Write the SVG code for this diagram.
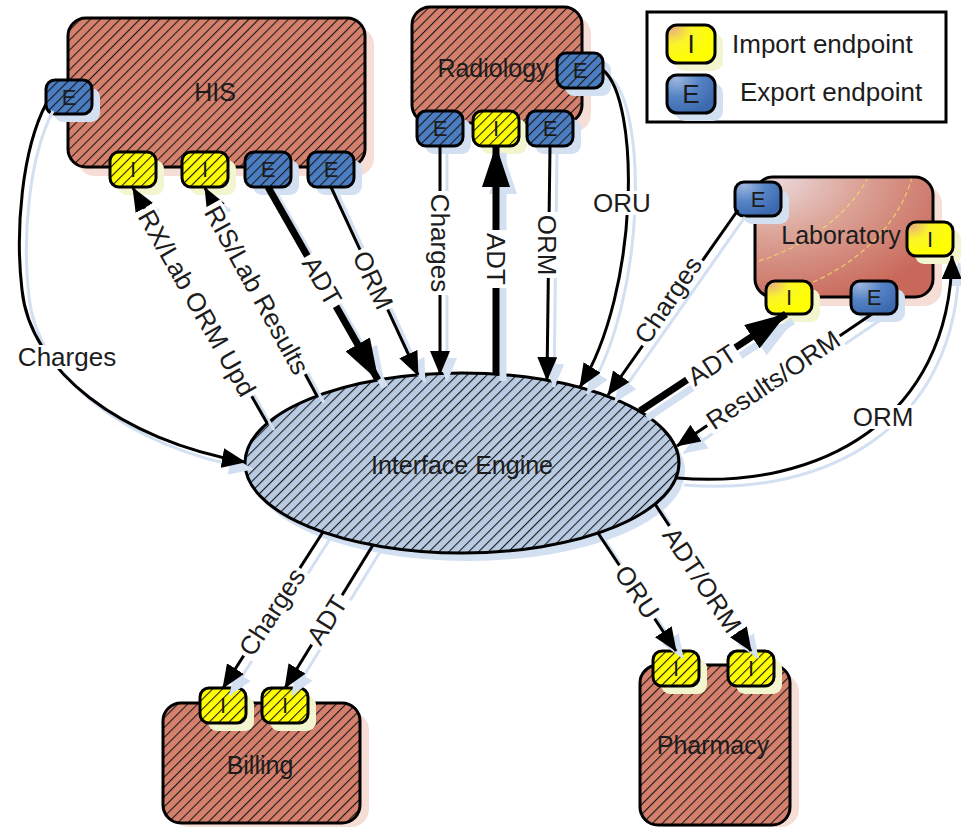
<svg xmlns="http://www.w3.org/2000/svg" width="961" height="829" viewBox="0 0 961 829">
<defs>
<style>
text{font-family:"Liberation Sans",Arial,Helvetica,sans-serif;fill:#1c1c1c}
.nt{font-size:25px;text-anchor:middle;dominant-baseline:central}
.pt{font-size:22px;text-anchor:middle;dominant-baseline:central}
.lpt{font-size:26px;text-anchor:middle;dominant-baseline:central}
.lt{font-size:26px}
.lb{font-size:26px;text-anchor:middle;dominant-baseline:central}
.lbg{fill:#fff}
.edge{stroke:#000;stroke-width:3}
.bfill{fill:#d5806d}
.hat{fill:url(#hatch)}
.yel{fill:#ffff00}
.blu{fill:#4b7dc2}
.yg{fill:url(#yelG)}
.bg{fill:url(#bluG)}
.bs{fill:#f6ddd6}
.ys{fill:#f3f5cf}
.ls{fill:#d3e0f1}
</style>
<pattern id="hatch" patternUnits="userSpaceOnUse" width="7" height="7" patternTransform="rotate(45)"><rect x="0" y="0" width="1.1" height="7" fill="#1a1a1a"/></pattern>
<radialGradient id="labG" cx="0.1" cy="0" r="1.1" fx="0.1" fy="0">
<stop offset="0" stop-color="#ecdadd"/><stop offset="0.45" stop-color="#dba396"/><stop offset="1" stop-color="#c8685a"/>
</radialGradient>
<radialGradient id="yelG" cx="0.1" cy="0.1" r="0.9">
<stop offset="0" stop-color="#e8b27c"/><stop offset="0.45" stop-color="#fbf52a"/><stop offset="1" stop-color="#ffff00"/>
</radialGradient>
<radialGradient id="bluG" cx="0.2" cy="0.1" r="0.95">
<stop offset="0" stop-color="#9db6df"/><stop offset="0.5" stop-color="#5583c5"/><stop offset="1" stop-color="#3c69ae"/>
</radialGradient>
<clipPath id="labClip"><rect x="755" y="177" width="178" height="120" rx="18"/></clipPath>
<marker id="ah" viewBox="0 0 24 20" refX="23" refY="10" markerWidth="24" markerHeight="20" orient="auto" markerUnits="userSpaceOnUse"><path d="M0,0 L24,10 L0,20 z" fill="#000"/></marker>
<marker id="ahB" viewBox="0 0 42 28" refX="41" refY="14" markerWidth="42" markerHeight="28" orient="auto" markerUnits="userSpaceOnUse"><path d="M0,0 L42,14 L0,28 z" fill="#000"/></marker>
<marker id="ahS" viewBox="0 0 24 20" refX="23" refY="10" markerWidth="24" markerHeight="20" orient="auto" markerUnits="userSpaceOnUse"><path d="M0,0 L24,10 L0,20 z" fill="#d3e0f1"/></marker>
<marker id="ahBS" viewBox="0 0 42 28" refX="41" refY="14" markerWidth="42" markerHeight="28" orient="auto" markerUnits="userSpaceOnUse"><path d="M0,0 L42,14 L0,28 z" fill="#d3e0f1"/></marker>
</defs>
<rect width="961" height="829" fill="#fff"/>

<!-- Legend -->
<g id="legend">
<rect x="647" y="12" width="299" height="110" fill="#fff" stroke="#000" stroke-width="3"/>
<rect class="ys" x="675" y="33" width="48" height="38" rx="10"/>
<rect class="yg edge" x="667" y="25" width="48" height="38" rx="10"/>
<text class="lpt" x="691" y="44">I</text>
<rect class="ls" x="675" y="83" width="48" height="38" rx="10"/>
<rect class="bg edge" x="667" y="75" width="48" height="38" rx="10"/>
<text class="lpt" x="691" y="94">E</text>
<text class="lt" x="732" y="53">Import endpoint</text>
<text class="lt" x="740" y="101">Export endpoint</text>
</g>

<!-- HIS -->
<g id="node-his">
<rect class="bs" x="77" y="27" width="297" height="149" rx="18"/>
<rect class="bfill" x="68" y="18" width="297" height="149" rx="18"/>
<rect class="hat edge" x="68" y="18" width="297" height="149" rx="18"/>
<text class="nt" x="215" y="92">HIS</text>
<g id="his-e-left"><rect class="ls" x="54" y="88" width="46" height="34" rx="9"/><rect class="blu" x="46" y="80" width="46" height="34" rx="9"/><text class="pt" x="69" y="97">E</text><rect class="hat edge" x="46" y="80" width="46" height="34" rx="9"/></g>
<g id="his-i1"><rect class="ys" x="118" y="160" width="46" height="35" rx="9"/><rect class="yel" x="110" y="152" width="46" height="35" rx="9"/><text class="pt" x="133" y="169.5">I</text><rect class="hat edge" x="110" y="152" width="46" height="35" rx="9"/></g>
<g id="his-i2"><rect class="ys" x="190" y="160" width="46" height="35" rx="9"/><rect class="yel" x="182" y="152" width="46" height="35" rx="9"/><text class="pt" x="205" y="169.5">I</text><rect class="hat edge" x="182" y="152" width="46" height="35" rx="9"/></g>
<g id="his-e3"><rect class="ls" x="253" y="160" width="46" height="35" rx="9"/><rect class="blu" x="245" y="152" width="46" height="35" rx="9"/><text class="pt" x="268" y="169.5">E</text><rect class="hat edge" x="245" y="152" width="46" height="35" rx="9"/></g>
<g id="his-e4"><rect class="ls" x="316" y="160" width="46" height="35" rx="9"/><rect class="blu" x="308" y="152" width="46" height="35" rx="9"/><text class="pt" x="331" y="169.5">E</text><rect class="hat edge" x="308" y="152" width="46" height="35" rx="9"/></g>
</g>

<!-- Radiology -->
<g id="node-radiology">
<rect class="bs" x="421" y="16" width="170" height="116" rx="18"/>
<rect class="bfill" x="412" y="7" width="170" height="116" rx="18"/>
<rect class="hat edge" x="412" y="7" width="170" height="116" rx="18"/>
<text class="nt" x="493" y="68">Radiology</text>
<g id="rad-e-right"><rect class="ls" x="565" y="61" width="46" height="35" rx="9"/><rect class="blu" x="557" y="53" width="46" height="35" rx="9"/><text class="pt" x="580" y="70.5">E</text><rect class="hat edge" x="557" y="53" width="46" height="35" rx="9"/></g>
<g id="rad-e1"><rect class="ls" x="425" y="119" width="46" height="35" rx="9"/><rect class="blu" x="417" y="111" width="46" height="35" rx="9"/><text class="pt" x="440" y="128.5">E</text><rect class="hat edge" x="417" y="111" width="46" height="35" rx="9"/></g>
<g id="rad-i"><rect class="ys" x="481" y="119" width="46" height="35" rx="9"/><rect class="yel" x="473" y="111" width="46" height="35" rx="9"/><text class="pt" x="496" y="128.5">I</text><rect class="hat edge" x="473" y="111" width="46" height="35" rx="9"/></g>
<g id="rad-e3"><rect class="ls" x="535" y="119" width="46" height="35" rx="9"/><rect class="blu" x="527" y="111" width="46" height="35" rx="9"/><text class="pt" x="550" y="128.5">E</text><rect class="hat edge" x="527" y="111" width="46" height="35" rx="9"/></g>
</g>

<!-- Laboratory -->
<g id="node-laboratory">
<rect class="bs" x="764" y="186" width="178" height="120" rx="18"/>
<rect fill="url(#labG)" x="755" y="177" width="178" height="120" rx="18"/>
<g clip-path="url(#labClip)" fill="none" stroke="#f2dd6a" stroke-width="1.2" stroke-dasharray="5 3" opacity="0.8">
<path d="M868,177 C850,215 800,250 755,262"/>
<path d="M912,177 C895,240 830,285 765,297"/>
</g>
<rect class="edge" fill="none" x="755" y="177" width="178" height="120" rx="18"/>
<text class="nt" x="841" y="235">Laboratory</text>
<g id="lab-e-tl"><rect class="ls" x="743" y="190" width="46" height="34" rx="9"/><rect class="bg edge" x="735" y="182" width="46" height="34" rx="9"/><text class="pt" x="758" y="199">E</text></g>
<g id="lab-i-right"><rect class="ys" x="915" y="230" width="46" height="34" rx="9"/><rect class="yg edge" x="907" y="222" width="46" height="34" rx="9"/><text class="pt" x="930" y="239">I</text></g>
<g id="lab-i-bottom"><rect class="ys" x="774" y="289" width="46" height="33" rx="9"/><rect class="yg edge" x="766" y="281" width="46" height="33" rx="9"/><text class="pt" x="789" y="297.5">I</text></g>
<g id="lab-e-bottom"><rect class="ls" x="859" y="289" width="46" height="33" rx="9"/><rect class="bg edge" x="851" y="281" width="46" height="33" rx="9"/><text class="pt" x="874" y="297.5">E</text></g>
</g>

<!-- Interface Engine -->
<g id="node-engine">
<ellipse cx="468" cy="471" rx="217" ry="90" fill="#d3e0f1"/>
<ellipse cx="462" cy="463" rx="217" ry="90" fill="#b9cbe2"/>
<ellipse class="hat edge" cx="462" cy="463" rx="217" ry="90"/>
<text class="nt" x="462" y="465">Interface Engine</text>
</g>

<!-- Billing -->
<g id="node-billing">
<rect class="bs" x="172" y="712" width="197" height="115" rx="18"/>
<rect class="bfill" x="163" y="703" width="197" height="120" rx="18"/>
<rect class="hat edge" x="163" y="703" width="197" height="120" rx="18"/>
<text class="nt" x="260" y="765">Billing</text>
<g id="bill-i1"><rect class="ys" x="208" y="696" width="46" height="35" rx="9"/><rect class="yel" x="200" y="688" width="46" height="35" rx="9"/><text class="pt" x="223" y="705.5">I</text><rect class="hat edge" x="200" y="688" width="46" height="35" rx="9"/></g>
<g id="bill-i2"><rect class="ys" x="270" y="696" width="46" height="35" rx="9"/><rect class="yel" x="262" y="688" width="46" height="35" rx="9"/><text class="pt" x="285" y="705.5">I</text><rect class="hat edge" x="262" y="688" width="46" height="35" rx="9"/></g>
</g>

<!-- Pharmacy -->
<g id="node-pharmacy">
<rect class="bs" x="649" y="674" width="150" height="153" rx="18"/>
<rect class="bfill" x="640" y="665" width="150" height="160" rx="18"/>
<rect class="hat edge" x="640" y="665" width="150" height="160" rx="18"/>
<text class="nt" x="713" y="745">Pharmacy</text>
<g id="ph-i1"><rect class="ys" x="661" y="659" width="46" height="35" rx="9"/><rect class="yel" x="653" y="651" width="46" height="35" rx="9"/><text class="pt" x="676" y="668.5">I</text><rect class="hat edge" x="653" y="651" width="46" height="35" rx="9"/></g>
<g id="ph-i2"><rect class="ys" x="736" y="659" width="46" height="35" rx="9"/><rect class="yel" x="728" y="651" width="46" height="35" rx="9"/><text class="pt" x="751" y="668.5">I</text><rect class="hat edge" x="728" y="651" width="46" height="35" rx="9"/></g>
</g>

<!-- Connectors -->
<g id="connectors" fill="none">
<g id="wire-shadows" transform="translate(7,7)" stroke="#d3e0f1">
<g stroke-width="3" marker-end="url(#ahS)">
<use href="#c1"/><use href="#c2"/><use href="#c3"/><use href="#c5"/><use href="#c6"/><use href="#c8"/><use href="#c9"/><use href="#c10"/><use href="#c12"/><use href="#c13"/><use href="#c14"/><use href="#c15"/><use href="#c16"/><use href="#c17"/>
</g>
<g stroke-width="7" marker-end="url(#ahBS)">
<use href="#c4"/><use href="#c7"/><use href="#c11"/>
</g>
</g>
<g id="wires" stroke="#000">
<g stroke-width="3" marker-end="url(#ah)">
<path id="c1" d="M46,104 C22,150 15,230 22,290 C30,370 120,440 245,462"/>
<path id="c2" d="M267,423 L133,188"/>
<path id="c3" d="M317,396 L205,188"/>
<path id="c5" d="M331,187 L418,375"/>
<path id="c6" d="M440,146 L440,374"/>
<path id="c8" d="M550,146 L547,380"/>
<path id="c9" d="M603,70 C640,100 640,290 580,387"/>
<path id="c10" d="M738,210 L608,395"/>
<path id="c12" d="M872,314 L677,446"/>
<path id="c13" d="M677,478 C820,490 950,420 952,256"/>
<path id="c14" d="M323,532 L223,688"/>
<path id="c15" d="M373,545 L285,688"/>
<path id="c16" d="M598,533 L676,651"/>
<path id="c17" d="M655,504 L751,651"/>
</g>
<g stroke-width="7" marker-end="url(#ahB)">
<path id="c4" d="M268,187 L378,380"/>
<path id="c7" d="M496,374 L496,146"/>
<path id="c11" d="M640,411 L786,314"/>
</g>
</g>
<g id="connector-labels">
<g transform="translate(67,357)"><rect class="lbg" x="-52" y="-12" width="104" height="24"/><text class="lb">Charges</text></g>
<g transform="translate(197,303) rotate(60.3)"><rect class="lbg" x="-108" y="-12" width="216" height="24"/><text class="lb">RX/Lab ORM Upd</text></g>
<g transform="translate(257,290) rotate(61)"><rect class="lbg" x="-97" y="-12" width="194" height="24"/><text class="lb">RIS/Lab Results</text></g>
<g transform="translate(322,281) rotate(60)"><rect class="lbg" x="-29" y="-12" width="58" height="24"/><text class="lb">ADT</text></g>
<g transform="translate(373,280) rotate(65)"><rect class="lbg" x="-33" y="-12" width="66" height="24"/><text class="lb">ORM</text></g>
<g transform="translate(440,243) rotate(90)"><rect class="lbg" x="-52" y="-12" width="104" height="24"/><text class="lb">Charges</text></g>
<g transform="translate(496,259) rotate(90)"><rect class="lbg" x="-29" y="-12" width="58" height="24"/><text class="lb">ADT</text></g>
<g transform="translate(547,245) rotate(90)"><rect class="lbg" x="-33" y="-12" width="66" height="24"/><text class="lb">ORM</text></g>
<g transform="translate(622,203)"><rect class="lbg" x="-32" y="-12" width="64" height="24"/><text class="lb">ORU</text></g>
<g transform="translate(668,300) rotate(-56)"><rect class="lbg" x="-52" y="-12" width="104" height="24"/><text class="lb">Charges</text></g>
<g transform="translate(712,365) rotate(-33)"><rect class="lbg" x="-29" y="-12" width="58" height="24"/><text class="lb">ADT</text></g>
<g transform="translate(773,380) rotate(-34)"><rect class="lbg" x="-80" y="-12" width="160" height="24"/><text class="lb">Results/ORM</text></g>
<g transform="translate(883,417)"><rect class="lbg" x="-33" y="-12" width="66" height="24"/><text class="lb">ORM</text></g>
<g transform="translate(272,612) rotate(-57)"><rect class="lbg" x="-52" y="-12" width="104" height="24"/><text class="lb">Charges</text></g>
<g transform="translate(327,620) rotate(-58)"><rect class="lbg" x="-29" y="-12" width="58" height="24"/><text class="lb">ADT</text></g>
<g transform="translate(637,592) rotate(56)"><rect class="lbg" x="-32" y="-12" width="64" height="24"/><text class="lb">ORU</text></g>
<g transform="translate(702,580) rotate(56.5)"><rect class="lbg" x="-63" y="-12" width="126" height="24"/><text class="lb">ADT/ORM</text></g>
</g>
</g>
</svg>
